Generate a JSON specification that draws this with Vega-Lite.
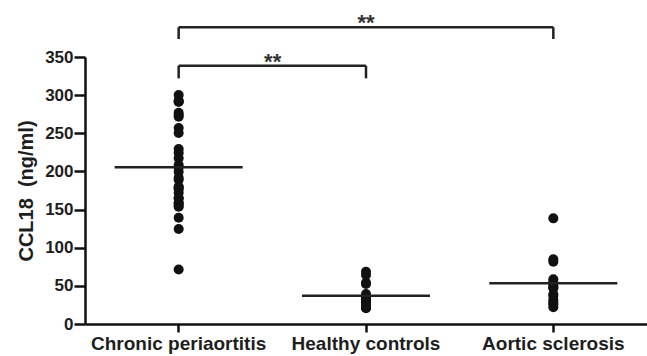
{
  "$schema": "https://vega.github.io/schema/vega-lite/v6.json",
  "width": 562,
  "height": 267,
  "autosize": "none",
  "padding": {"left": 85, "top": 57, "right": 0, "bottom": 32},
  "config": {
    "view": {"stroke": null},
    "font": "Liberation Sans"
  },
  "datasets": {
    "points": [
      {"group": "Chronic periaortitis", "slot": -4, "value": 291.3},
      {"group": "Chronic periaortitis", "slot": 0, "value": 292.7},
      {"group": "Chronic periaortitis", "slot": 2, "value": 300.1},
      {"group": "Chronic periaortitis", "slot": 4, "value": 291.3},
      {"group": "Chronic periaortitis", "slot": -2, "value": 273.9},
      {"group": "Chronic periaortitis", "slot": 0, "value": 271.7},
      {"group": "Chronic periaortitis", "slot": 2, "value": 276.9},
      {"group": "Chronic periaortitis", "slot": 0, "value": 250.3},
      {"group": "Chronic periaortitis", "slot": 2, "value": 256.9},
      {"group": "Chronic periaortitis", "slot": -2, "value": 229.4},
      {"group": "Chronic periaortitis", "slot": 0, "value": 224.2},
      {"group": "Chronic periaortitis", "slot": 4, "value": 217.2},
      {"group": "Chronic periaortitis", "slot": -2, "value": 208.4},
      {"group": "Chronic periaortitis", "slot": 0, "value": 199.6},
      {"group": "Chronic periaortitis", "slot": 2, "value": 205.4},
      {"group": "Chronic periaortitis", "slot": -4, "value": 189.0},
      {"group": "Chronic periaortitis", "slot": 4, "value": 191.7},
      {"group": "Chronic periaortitis", "slot": -6, "value": 172.1},
      {"group": "Chronic periaortitis", "slot": -2, "value": 179.2},
      {"group": "Chronic periaortitis", "slot": 0, "value": 176.5},
      {"group": "Chronic periaortitis", "slot": 2, "value": 179.9},
      {"group": "Chronic periaortitis", "slot": -4, "value": 164.7},
      {"group": "Chronic periaortitis", "slot": -2, "value": 158.2},
      {"group": "Chronic periaortitis", "slot": 0, "value": 153.7},
      {"group": "Chronic periaortitis", "slot": 2, "value": 155.0},
      {"group": "Chronic periaortitis", "slot": 4, "value": 159.0},
      {"group": "Chronic periaortitis", "slot": 6, "value": 164.7},
      {"group": "Chronic periaortitis", "slot": -2, "value": 139.3},
      {"group": "Chronic periaortitis", "slot": 0, "value": 124.5},
      {"group": "Chronic periaortitis", "slot": 0, "value": 71.5},
      {"group": "Healthy controls", "slot": -4, "value": 68.5},
      {"group": "Healthy controls", "slot": -2, "value": 54.1},
      {"group": "Healthy controls", "slot": 0, "value": 52.4},
      {"group": "Healthy controls", "slot": 2, "value": 64.2},
      {"group": "Healthy controls", "slot": -3, "value": 39.3},
      {"group": "Healthy controls", "slot": -6, "value": 29.2},
      {"group": "Healthy controls", "slot": -4, "value": 29.2},
      {"group": "Healthy controls", "slot": -2, "value": 22.7},
      {"group": "Healthy controls", "slot": -1, "value": 32.8},
      {"group": "Healthy controls", "slot": 0, "value": 20.6},
      {"group": "Healthy controls", "slot": 1, "value": 32.8},
      {"group": "Healthy controls", "slot": 2, "value": 21.4},
      {"group": "Healthy controls", "slot": 3, "value": 35.0},
      {"group": "Healthy controls", "slot": 4, "value": 26.2},
      {"group": "Healthy controls", "slot": 6, "value": 28.4},
      {"group": "Aortic sclerosis", "slot": 0, "value": 138.5},
      {"group": "Aortic sclerosis", "slot": 0, "value": 81.7},
      {"group": "Aortic sclerosis", "slot": 2, "value": 84.8},
      {"group": "Aortic sclerosis", "slot": -6, "value": 58.6},
      {"group": "Aortic sclerosis", "slot": -4, "value": 54.1},
      {"group": "Aortic sclerosis", "slot": -2, "value": 48.1},
      {"group": "Aortic sclerosis", "slot": 0, "value": 46.8},
      {"group": "Aortic sclerosis", "slot": 2, "value": 49.8},
      {"group": "Aortic sclerosis", "slot": 4, "value": 54.1},
      {"group": "Aortic sclerosis", "slot": -4, "value": 36.7},
      {"group": "Aortic sclerosis", "slot": -2, "value": 28.4},
      {"group": "Aortic sclerosis", "slot": 0, "value": 21.9},
      {"group": "Aortic sclerosis", "slot": 2, "value": 25.8},
      {"group": "Aortic sclerosis", "slot": 4, "value": 31.5},
      {"group": "Aortic sclerosis", "slot": 6, "value": 38.9}
    ],
    "means": [
      {"group": "Chronic periaortitis", "value": 205.4},
      {"group": "Healthy controls", "value": 37.1},
      {"group": "Aortic sclerosis", "value": 53.3}
    ],
    "brackets": [
      {"group": "Chronic periaortitis", "group2": "Aortic sclerosis", "value": 389},
      {"group": "Chronic periaortitis", "group2": "Healthy controls", "value": 338.6}
    ],
    "drops": [
      {"group": "Chronic periaortitis", "value": 389, "value2": 373.6},
      {"group": "Aortic sclerosis", "value": 389, "value2": 373.6},
      {"group": "Chronic periaortitis", "value": 338.6, "value2": 322},
      {"group": "Healthy controls", "value": 338.6, "value2": 322}
    ]
  },
  "encoding": {
    "x": {
      "field": "group", "type": "nominal",
      "scale": {"domain": ["Chronic periaortitis", "Healthy controls", "Aortic sclerosis"], "paddingInner": 0, "paddingOuter": 0},
      "axis": {
        "title": null, "labelAngle": 0, "labelFontSize": 19, "labelFontWeight": "bold", "labelColor": "#1e1e1e",
        "domain": true, "ticks": true,
        "tickSize": 8, "labelPadding": 2, "domainColor": "#111111", "tickColor": "#111111", "domainWidth": 2.5, "tickWidth": 2.5,
        "grid": false
      }
    },
    "y": {
      "field": "value", "type": "quantitative",
      "scale": {"domain": [0, 350], "nice": false},
      "axis": {
        "title": "CCL18\u00a0\u00a0(ng/ml)", "values": [0, 50, 100, 150, 200, 250, 300, 350],
        "domain": true, "ticks": true,
        "labelFontSize": 17, "labelFontWeight": "bold", "labelColor": "#1e1e1e", "labelOverlap": false,
        "tickSize": 11, "labelPadding": 1, "domainColor": "#111111", "tickColor": "#111111", "domainWidth": 2.5, "tickWidth": 2.5, "grid": false,
        "titleFontSize": 20, "titleFontWeight": "bold", "titleColor": "#1e1e1e", "titlePadding": 8
      }
    }
  },
  "layer": [
    {"data": {"name": "points"}, "transform": [{"filter": "datum.slot == -6"}], "mark": {"type": "point", "filled": true, "shape": "circle", "size": 100, "color": "#111111", "opacity": 1, "dx": -48}, "encoding": {}},
    {"data": {"name": "points"}, "transform": [{"filter": "datum.slot == -4"}], "mark": {"type": "point", "filled": true, "shape": "circle", "size": 100, "color": "#111111", "opacity": 1, "dx": -32}, "encoding": {}},
    {"data": {"name": "points"}, "transform": [{"filter": "datum.slot == -3"}], "mark": {"type": "point", "filled": true, "shape": "circle", "size": 100, "color": "#111111", "opacity": 1, "dx": -24}, "encoding": {}},
    {"data": {"name": "points"}, "transform": [{"filter": "datum.slot == -2"}], "mark": {"type": "point", "filled": true, "shape": "circle", "size": 100, "color": "#111111", "opacity": 1, "dx": -16}, "encoding": {}},
    {"data": {"name": "points"}, "transform": [{"filter": "datum.slot == -1"}], "mark": {"type": "point", "filled": true, "shape": "circle", "size": 100, "color": "#111111", "opacity": 1, "dx": -8}, "encoding": {}},
    {"data": {"name": "points"}, "transform": [{"filter": "datum.slot == 0"}], "mark": {"type": "point", "filled": true, "shape": "circle", "size": 100, "color": "#111111", "opacity": 1}, "encoding": {}},
    {"data": {"name": "points"}, "transform": [{"filter": "datum.slot == 1"}], "mark": {"type": "point", "filled": true, "shape": "circle", "size": 100, "color": "#111111", "opacity": 1, "dx": 8}, "encoding": {}},
    {"data": {"name": "points"}, "transform": [{"filter": "datum.slot == 2"}], "mark": {"type": "point", "filled": true, "shape": "circle", "size": 100, "color": "#111111", "opacity": 1, "dx": 16}, "encoding": {}},
    {"data": {"name": "points"}, "transform": [{"filter": "datum.slot == 3"}], "mark": {"type": "point", "filled": true, "shape": "circle", "size": 100, "color": "#111111", "opacity": 1, "dx": 24}, "encoding": {}},
    {"data": {"name": "points"}, "transform": [{"filter": "datum.slot == 4"}], "mark": {"type": "point", "filled": true, "shape": "circle", "size": 100, "color": "#111111", "opacity": 1, "dx": 32}, "encoding": {}},
    {"data": {"name": "points"}, "transform": [{"filter": "datum.slot == 6"}], "mark": {"type": "point", "filled": true, "shape": "circle", "size": 100, "color": "#111111", "opacity": 1, "dx": 48}, "encoding": {}},
    {
      "data": {"name": "means"},
      "mark": {"type": "point", "shape": "M-1,0L1,0", "filled": false, "size": 16384, "strokeWidth": 2.5, "color": "#222222", "opacity": 1},
      "encoding": {}
    },
    {
      "data": {"name": "brackets"},
      "mark": {"type": "rule", "strokeWidth": 2.5, "color": "#222222"},
      "encoding": {"x2": {"field": "group2"}}
    },
    {
      "data": {"name": "drops"},
      "mark": {"type": "rule", "strokeWidth": 2.5, "color": "#222222"},
      "encoding": {"y2": {"field": "value2"}}
    },
    {
      "data": {"values": [{"group": "Healthy controls", "value": 389, "label": "**"}]},
      "mark": {"type": "text", "fontSize": 22, "fontWeight": "bold", "color": "#333333", "baseline": "alphabetic", "dy": 3},
      "encoding": {"text": {"field": "label"}}
    },
    {
      "data": {"values": [{"group": "Chronic periaortitis", "value": 338.6, "label": "**"}]},
      "mark": {"type": "text", "fontSize": 22, "fontWeight": "bold", "color": "#333333", "baseline": "alphabetic", "dy": 3, "dx": 94},
      "encoding": {"text": {"field": "label"}}
    }
  ]
}
